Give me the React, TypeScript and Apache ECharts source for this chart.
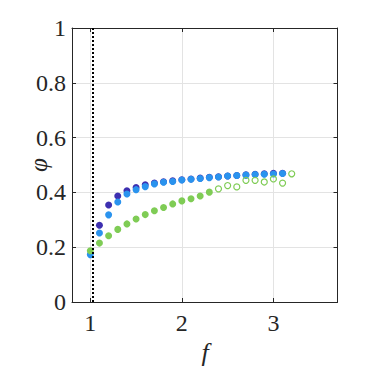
import React, { useEffect, useRef } from "react";
import * as echarts from "echarts";

const blueX = [1.0, 1.1, 1.2, 1.3, 1.4, 1.5, 1.6, 1.7, 1.8, 1.9, 2.0, 2.1, 2.2, 2.3, 2.4, 2.5, 2.6, 2.7, 2.8, 2.9, 3.0, 3.1];
const blueY = [0.173, 0.252, 0.318, 0.365, 0.394, 0.41, 0.421, 0.431, 0.437, 0.44, 0.445, 0.448, 0.451, 0.454, 0.456, 0.46, 0.462, 0.463, 0.465, 0.466, 0.467, 0.469];

const indigoX = [1.1, 1.2, 1.3, 1.4, 1.5, 1.6, 1.7, 1.8, 1.9, 2.0, 2.1, 2.2, 2.3, 2.4, 2.5, 2.6, 2.7, 2.8, 2.9, 3.0, 3.1];
const indigoY = [0.28, 0.354, 0.387, 0.406, 0.418, 0.428, 0.434, 0.439, 0.442, 0.446, 0.449, 0.452, 0.455, 0.457, 0.46, 0.462, 0.464, 0.466, 0.468, 0.47, 0.47];

const greenX = [1.0, 1.1, 1.2, 1.3, 1.4, 1.5, 1.6, 1.7, 1.8, 1.9, 2.0, 2.1, 2.2, 2.3];
const greenY = [0.187, 0.215, 0.242, 0.265, 0.285, 0.303, 0.319, 0.333, 0.345, 0.358, 0.369, 0.377, 0.387, 0.401];

const greenOpenX = [2.4, 2.5, 2.6, 2.7, 2.8, 2.9, 3.0, 3.1, 3.2];
const greenOpenY = [0.413, 0.425, 0.42, 0.444, 0.444, 0.438, 0.449, 0.434, 0.468];

const thresholdX = 1.03;
const xTicks = [1, 2, 3];

const FONT = "Liberation Serif";
const AXIS_COLOR = "#262626";
const GRID_COLOR = "#e3e3e3";

const pairs = (xs: number[], ys: number[]) => xs.map((x, i) => [x, ys[i]]);

export default function App() {
  const ref = useRef<HTMLDivElement>(null);
  useEffect(() => {
    if (!ref.current) return;
    const chart = echarts.init(ref.current, null, { renderer: "svg" });
    const xCommon = {
      type: "value" as const,
      min: 0.8,
      max: 3.7,
      axisLine: { show: true, onZero: false, lineStyle: { color: AXIS_COLOR, width: 1 } },
      axisTick: { show: true, inside: true, length: 4, customValues: xTicks, lineStyle: { color: AXIS_COLOR } },
    };
    const yCommon = {
      type: "value" as const,
      min: 0,
      max: 1,
      interval: 0.2,
      axisLine: { show: true, onZero: false, lineStyle: { color: AXIS_COLOR, width: 1 } },
      axisTick: { show: true, inside: true, length: 4, lineStyle: { color: AXIS_COLOR } },
    };
    chart.setOption({
      animation: false,
      backgroundColor: "#ffffff",
      textStyle: { fontFamily: FONT },
      grid: { left: 72, top: 28, width: 265.5, height: 274, containLabel: false },
      xAxis: [
        {
          ...xCommon,
          position: "bottom",
          axisLabel: {
            customValues: xTicks,
            fontFamily: FONT,
            fontSize: 24,
            color: AXIS_COLOR,
            margin: 9,
            formatter: (v: number) => String(v),
          },
          splitLine: { show: true, lineStyle: { color: GRID_COLOR, width: 1 } },
        },
        {
          ...xCommon,
          position: "top",
          axisLabel: { show: false },
          splitLine: { show: false },
        },
      ],
      yAxis: [
        {
          ...yCommon,
          position: "left",
          axisLabel: {
            fontFamily: FONT,
            fontSize: 24,
            color: AXIS_COLOR,
            margin: 6,
            formatter: (v: number) => String(Math.round(v * 10) / 10),
          },
          splitLine: { show: true, lineStyle: { color: GRID_COLOR, width: 1 } },
        },
        {
          ...yCommon,
          position: "right",
          axisLabel: { show: false },
          splitLine: { show: false },
        },
      ],
      graphic: [
        {
          type: "text",
          x: 205,
          y: 352,
          style: {
            text: "f",
            fontFamily: FONT,
            fontStyle: "italic",
            fontSize: 26,
            fill: AXIS_COLOR,
            align: "center",
            verticalAlign: "middle",
          },
        },
        {
          type: "text",
          x: 38,
          y: 165,
          rotation: Math.PI / 2,
          style: {
            text: "φ",
            fontFamily: FONT,
            fontStyle: "italic",
            fontSize: 25,
            fill: AXIS_COLOR,
            align: "center",
            verticalAlign: "middle",
          },
        },
      ],
      series: [
        {
          type: "scatter",
          data: pairs(indigoX, indigoY),
          symbol: "circle",
          symbolSize: 7,
          itemStyle: { color: "#3d2fb0", opacity: 1 },
          z: 2,
          markLine: {
            silent: true,
            symbol: ["none", "none"],
            label: { show: false },
            lineStyle: { color: "#000000", type: [2, 2], width: 2, opacity: 1 },
            data: [{ xAxis: thresholdX }],
          },
        },
        {
          type: "scatter",
          data: pairs(blueX, blueY),
          symbol: "circle",
          symbolSize: 7,
          itemStyle: { color: "#2a93ee", opacity: 1 },
          z: 3,
        },
        {
          type: "scatter",
          data: pairs(greenX, greenY),
          symbol: "circle",
          symbolSize: 7,
          itemStyle: { color: "#7fcc55", opacity: 1 },
          z: 4,
        },
        {
          type: "scatter",
          data: pairs(greenOpenX, greenOpenY),
          symbol: "circle",
          symbolSize: 6,
          itemStyle: { color: "rgba(255,255,255,0)", borderColor: "#7fcc55", borderWidth: 1.2, opacity: 1 },
          z: 4,
        },
      ],
    });
    return () => chart.dispose();
  }, []);
  return <div ref={ref} style={{ width: 373, height: 373, position: "absolute", left: 0, top: 0 }} />;
}
